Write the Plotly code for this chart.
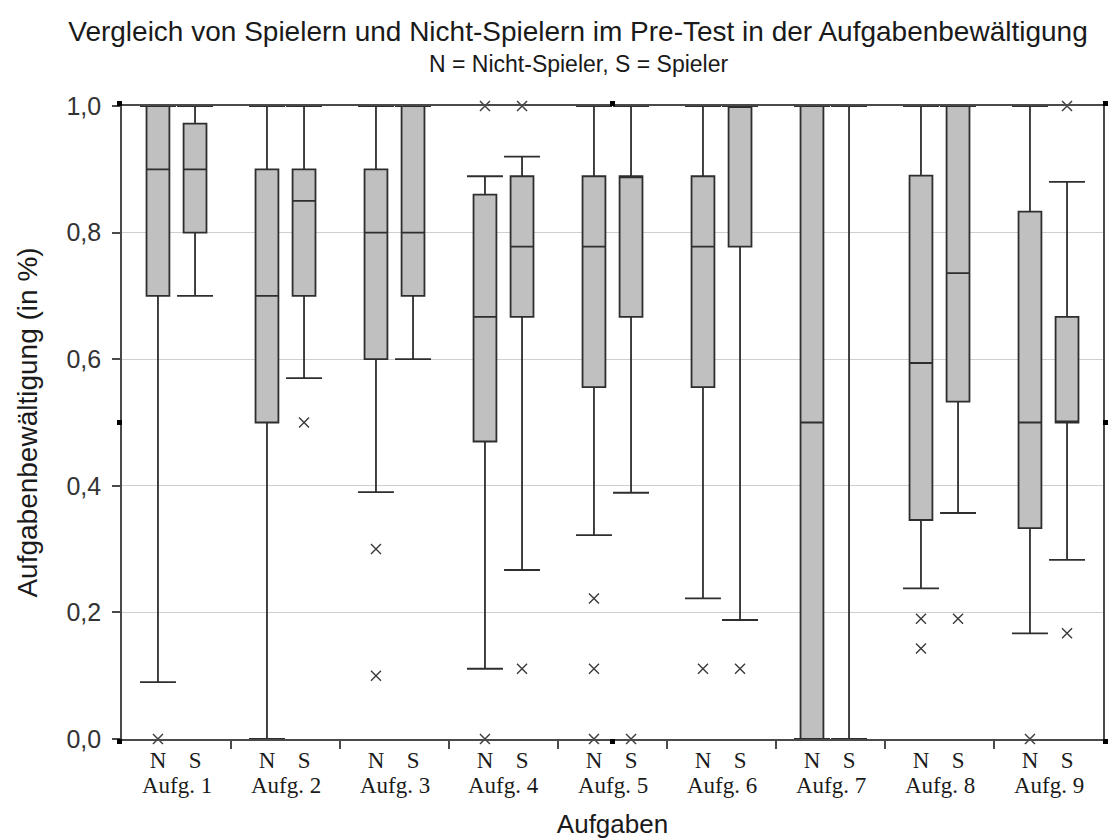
import plotly.graph_objects as go

# ---------------- data ----------------
tasks = ["Aufg. 1", "Aufg. 2", "Aufg. 3", "Aufg. 4", "Aufg. 5",
         "Aufg. 6", "Aufg. 7", "Aufg. 8", "Aufg. 9"]

# Nicht-Spieler (N)
N_lower = [0.09, 0.00, 0.39, 0.111, 0.322, 0.222, 0.00, 0.238, 0.167]
N_q1 = [0.70, 0.50, 0.60, 0.47, 0.556, 0.556, 0.00, 0.346, 0.333]
N_median = [0.90, 0.70, 0.80, 0.667, 0.778, 0.778, 0.50, 0.594, 0.50]
N_q3 = [1.00, 0.90, 0.90, 0.86, 0.889, 0.889, 1.00, 0.89, 0.833]
N_upper = [1.00, 1.00, 1.00, 0.889, 1.00, 1.00, 1.00, 1.00, 1.00]
N_outliers = [[0.0], [], [0.3, 0.1], [1.0, 0.0], [0.222, 0.111, 0.0],
              [0.111], [], [0.19, 0.143], [0.0]]

# Spieler (S)
S_lower = [0.70, 0.57, 0.60, 0.267, 0.389, 0.188, 0.00, 0.357, 0.283]
S_q1 = [0.80, 0.70, 0.70, 0.667, 0.667, 0.778, 0.00, 0.533, 0.50]
S_median = [0.90, 0.85, 0.80, 0.778, 0.889, 1.00, 0.00, 0.736, 0.50]
S_q3 = [0.972, 0.90, 1.00, 0.889, 0.889, 1.00, 0.00, 1.00, 0.667]
S_upper = [1.00, 1.00, 1.00, 0.92, 1.00, 1.00, 1.00, 1.00, 0.88]
S_outliers = [[], [0.5], [], [1.0, 0.111], [0.0], [0.111], [], [0.19],
              [1.0, 0.167]]

group_labels = ["N", "S"]
y_ticks = [0.0, 0.2, 0.4, 0.6, 0.8, 1.0]

# ---------------- styling ----------------
SANS = "Liberation Sans, Arial, sans-serif"
SERIF = "Liberation Serif, Times New Roman, serif"
BOX_FILL = "#c0c0c0"
LINE = "#2e2e2e"
AXIS = "#4a4a4a"
OFFSET = 0.17
BOX_W = 0.21
CAP_HALF = 0.165
ML, MR, MT, MB = 122, 9, 106, 101
W, H = 1112, 840

centers = list(range(1, len(tasks) + 1))
pos_N = [c - OFFSET for c in centers]
pos_S = [c + OFFSET for c in centers]

fig = go.Figure()


def add_group(pos, q1, med, q3, lo, hi, outl, name):
    fig.add_trace(go.Box(
        x=pos, q1=q1, median=med, q3=q3, lowerfence=lo, upperfence=hi,
        orientation="v", width=BOX_W, whiskerwidth=0, boxpoints=False,
        fillcolor=BOX_FILL, line=dict(color=LINE, width=1.8),
        name=name, showlegend=False, hoverinfo="skip"))
    # whisker caps
    cx, cy = [], []
    for p, a, b in zip(pos, lo, hi):
        for v in (a, b):
            cx += [p - CAP_HALF, p + CAP_HALF, None]
            cy += [v, v, None]
    fig.add_trace(go.Scatter(x=cx, y=cy, mode="lines",
                             line=dict(color=LINE, width=1.8),
                             showlegend=False, hoverinfo="skip",
                             cliponaxis=False))
    # outliers
    ox, oy = [], []
    for p, vals in zip(pos, outl):
        for v in vals:
            ox.append(p)
            oy.append(v)
    fig.add_trace(go.Scatter(x=ox, y=oy, mode="markers",
                             marker=dict(symbol="x-thin", size=10,
                                         line=dict(color="#3a3a3a", width=1.4)),
                             showlegend=False, hoverinfo="skip",
                             cliponaxis=False))


add_group(pos_N, N_q1, N_median, N_q3, N_lower, N_upper, N_outliers, "N")
add_group(pos_S, S_q1, S_median, S_q3, S_lower, S_upper, S_outliers, "S")

tick_pos = []
tick_txt = []
for a, b in zip(pos_N, pos_S):
    tick_pos += [a, b]
    tick_txt += group_labels

annotations = [dict(x=c, y=0, xref="x", yref="paper", text=t,
                    showarrow=False, yshift=-46, yanchor="middle",
                    font=dict(family=SERIF, size=23, color="#1a1a1a"))
               for c, t in zip(centers, tasks)]

annotations.append(dict(
    text="N = Nicht-Spieler, S = Spieler",
    x=(578 - ML) / (W - ML - MR), xref="paper",
    y=1, yref="paper", yshift=42, yanchor="middle", xanchor="center",
    showarrow=False, font=dict(family=SANS, size=23, color="#1a1a1a")))

# small selection-handle squares around the plot frame
shapes = []
for (px, py) in [(0, 1), (0, 0.5), (0, 0), (0.5, 1), (0.5, 0), (1, 1), (1, 0.5), (1, 0)]:
    dx0, dx1 = (-5, 0) if px == 0 else ((0, 5) if px == 1 else (-2.5, 2.5))
    dy0, dy1 = (0, 5) if py == 1 else ((-5, 0) if py == 0 else (-2.5, 2.5))
    shapes.append(dict(type="rect", xref="paper", yref="paper",
                       xsizemode="pixel", ysizemode="pixel",
                       xanchor=px, yanchor=py, x0=dx0, x1=dx1, y0=dy0, y1=dy1,
                       fillcolor="black", line=dict(width=0)))

fig.update_layout(
    width=W, height=H,
    margin=dict(l=ML, r=MR, t=MT, b=MB, autoexpand=False),
    paper_bgcolor="white", plot_bgcolor="white",
    separators=",.",
    boxmode="overlay",
    font=dict(family=SANS, color="#1a1a1a"),
    title=dict(
        text="Vergleich von Spielern und Nicht-Spielern im Pre-Test in der Aufgabenbewältigung",
        x=578 / W, xanchor="center", xref="container",
        y=0.975, yanchor="top", yref="container",
        font=dict(family=SANS, size=28, color="#1a1a1a")),
    xaxis=dict(
        range=[0.5, len(tasks) + 0.5], automargin=False,
        tickmode="array", tickvals=tick_pos, ticktext=tick_txt,
        ticks="", tickfont=dict(family=SERIF, size=23, color="#1a1a1a"),
        showgrid=False, zeroline=False,
        showline=True, mirror=True, linecolor=AXIS, linewidth=1.6,
        minor=dict(tickmode="array",
                   tickvals=[c + 0.5 for c in centers[:-1]],
                   ticks="outside", ticklen=8, tickwidth=1.5,
                   tickcolor=AXIS, showgrid=False),
        title=dict(text="Aufgaben", font=dict(family=SANS, size=26),
                   standoff=42),
    ),
    yaxis=dict(
        range=[0, 1], tickmode="array", tickvals=y_ticks, automargin=False,
        tickformat=".1f", ticks="outside", ticklen=8, tickwidth=1.5,
        tickcolor=AXIS, tickfont=dict(family=SANS, size=25, color="#333333"),
        ticklabelstandoff=6,
        showgrid=True, gridcolor="#cfcfcf", gridwidth=1.2, zeroline=False,
        showline=True, mirror=True, linecolor=AXIS, linewidth=1.6,
        title=dict(text="Aufgabenbewältigung (in %)",
                   font=dict(family=SANS, size=28), standoff=21),
    ),
    annotations=annotations,
    shapes=shapes,
)

fig.write_html("out.html")
